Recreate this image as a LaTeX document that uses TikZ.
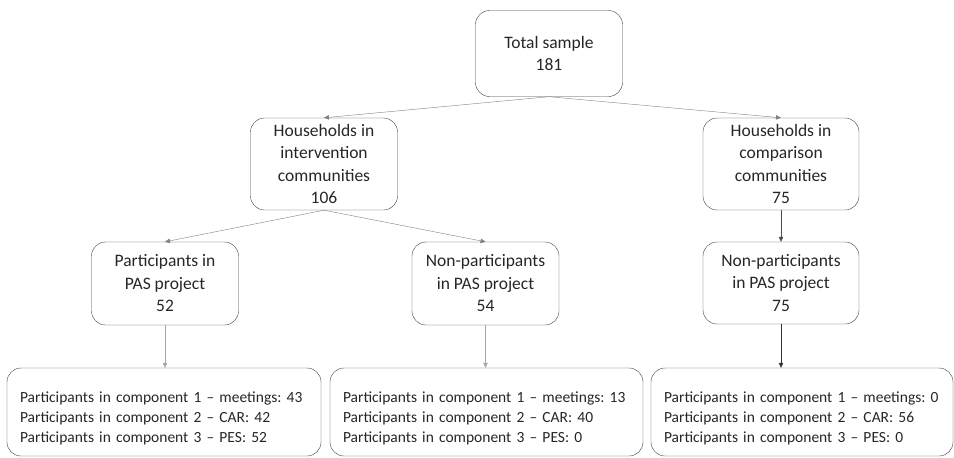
\documentclass[tikz,border=0pt]{standalone}
\usepackage{fontspec}
\setmainfont{Carlito}
\usetikzlibrary{arrows.meta}
\frenchspacing

\begin{document}
\begin{tikzpicture}[x=1pt,y=-1pt,
  box/.style={draw=black!75, text=black!85, rounded corners=14pt, align=center, inner sep=0pt,
    minimum width=147pt, minimum height=86pt, font=\fontsize{17.5}{22.5}\selectfont},
  comp/.style={draw=black!75, text=black!85, rounded corners=14pt, align=left, inner xsep=13pt, inner ysep=0pt,
    minimum height=88pt, font=\fontsize{15.5}{20}\selectfont},
  link/.style={draw=black!50, -{Triangle[length=5pt,width=4.5pt]}}]
\useasboundingbox (0,0) rectangle (954,458);
\node[box] (tot) at (549,53.5) {Total sample\\181};
\node[box, minimum height=92pt] (int) at (324,164) {Households in\\intervention\\communities\\106};
\node[box, minimum height=92pt, minimum width=156pt] (cmp) at (781,164) {Households in\\comparison\\communities\\75};
\node[box, minimum height=83pt] (par) at (165,283.5) {Participants in\\PAS project\\52};
\node[box, minimum height=83pt] (npi) at (485.5,283.5) {Non-participants\\in PAS project\\54};
\node[box, minimum height=82pt, minimum width=156pt] (npc) at (781,283) {Non-participants\\in PAS project\\75};
% component counts
\node[comp, text width=288pt] (c_par) at (164,412) {\rule{0pt}{23pt}Participants in component 1 -- meetings: 43\\Participants in component 2 -- CAR: 42\\Participants in component 3 -- PES: 52};
\node[comp, text width=287pt] (c_npi) at (486.5,412) {\rule{0pt}{23pt}Participants in component 1 -- meetings: 13\\Participants in component 2 -- CAR: 40\\Participants in component 3 -- PES: 0};
\node[comp, text width=276pt] (c_npc) at (802,412) {\rule{0pt}{23pt}Participants in component 1 -- meetings: 0\\Participants in component 2 -- CAR: 56\\Participants in component 3 -- PES: 0};
\draw[link] (tot.south) -- (int.north);
\draw[link] (tot.south) -- (cmp.north);
\draw[link] (int.south) -- (par.north);
\draw[link] (int.south) -- (npi.north);
\draw[link, draw=black!70] (cmp) -- (npc);
\draw[link, draw=black!35] (par.south) -- (par.south |- c_par.north);
\draw[link, draw=black!35] (npi.south) -- (npi.south |- c_npi.north);
\draw[link, draw=black!80] (npc.south) -- (npc.south |- c_npc.north);
\end{tikzpicture}
\end{document}
